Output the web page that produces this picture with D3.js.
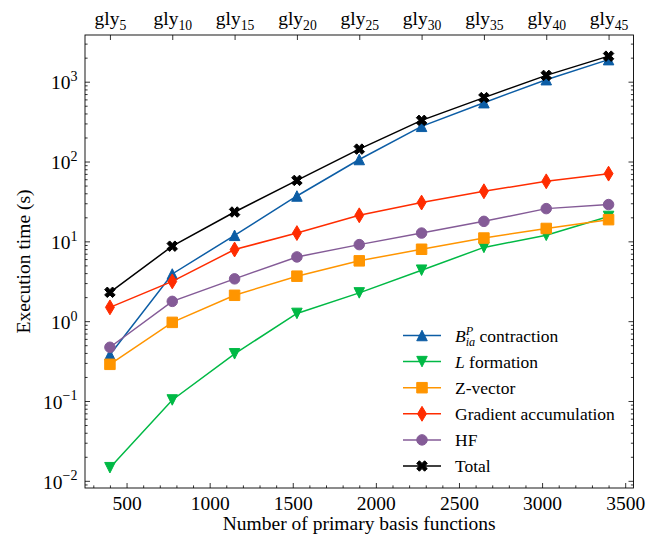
<!DOCTYPE html>
<html>
<head>
<meta charset="utf-8">
<script src="https://cdn.jsdelivr.net/npm/d3@7"></script>
<style>
  body { margin: 0; background: #fff; }
  svg { display: block; font-family: 'Liberation Serif', 'Times New Roman', serif; }
  svg text { font-family: 'Liberation Serif', 'Times New Roman', serif; }
</style>
</head>
<body>
<script>
// number of primary basis functions for each glycine chain
const basisFunctions = [400, 775, 1150, 1525, 1900, 2275, 2650, 3025, 3400]
const glycineSizes = [5, 10, 15, 20, 25, 30, 35, 40, 45]

// execution times in seconds
const bContraction = [0.38, 3.9, 11.9, 37, 106, 276, 546, 1060, 1890]
const lFormation = [0.0146, 0.103, 0.39, 1.25, 2.26, 4.35, 8.4, 11.9, 20.5]
const zVector = [0.288, 0.966, 2.11, 3.66, 5.7, 7.96, 11.0, 14.5, 18.7]
const gradientAccumulation = [1.49, 3.15, 7.9, 12.7, 21.2, 30.6, 42.4, 56.5, 70.5]
const hf = [0.471, 1.77, 3.39, 6.38, 9.1, 12.7, 17.8, 25.7, 28.9]
const total = [2.3, 8.7, 23.3, 58, 143, 328, 632, 1200, 2090]

const seriesNames = ['B_ia^P contraction', 'L formation', 'Z-vector', 'Gradient accumulation', 'HF', 'Total']
const xTicks = [500, 1000, 1500, 2000, 2500, 3000, 3500]
const yTickExponents = [-2, -1, 0, 1, 2, 3]

const width = 647
const height = 538
const margin = { top: 35, right: 13.5, bottom: 50, left: 85 }
const fontSize = 19.5
const legendFont = 17.5
const ms = 10.5

// marker shapes, size is the marker size in px
const triangleUp = { draw (c, s) { const r = s / 2; c.moveTo(0, -r); c.lineTo(r, r); c.lineTo(-r, r); c.closePath() } }
const triangleDown = { draw (c, s) { const r = s / 2; c.moveTo(0, r); c.lineTo(r, -r); c.lineTo(-r, -r); c.closePath() } }
const square = { draw (c, s) { const r = s / 2; c.rect(-r, -r, s, s) } }
const thinDiamond = {
  draw (c, s) {
    const h = s * Math.SQRT1_2
    const w = h * 0.6
    c.moveTo(0, -h); c.lineTo(w, 0); c.lineTo(0, h); c.lineTo(-w, 0); c.closePath()
  }
}
const circle = { draw (c, s) { const r = s / 2; c.moveTo(r, 0); c.arc(0, 0, r, 0, 2 * Math.PI) } }
const filledX = {
  draw (c, s) {
    const pts = [[-1, -3], [1, -3], [1, -1], [3, -1], [3, 1], [1, 1], [1, 3], [-1, 3], [-1, 1], [-3, 1], [-3, -1], [-1, -1]]
    const k = s / 6 / 0.943
    pts.forEach(([px, py], i) => {
      const rx = (px - py) * Math.SQRT1_2 * k
      const ry = (px + py) * Math.SQRT1_2 * k
      if (i === 0) c.moveTo(rx, ry)
      else c.lineTo(rx, ry)
    })
    c.closePath()
  }
}

const series = [
  { name: seriesNames[0], values: bContraction, color: '#0C5DA5', symbol: triangleUp },
  { name: seriesNames[1], values: lFormation, color: '#00B945', symbol: triangleDown },
  { name: seriesNames[2], values: zVector, color: '#FF9500', symbol: square },
  { name: seriesNames[3], values: gradientAccumulation, color: '#FF2C00', symbol: thinDiamond },
  { name: seriesNames[4], values: hf, color: '#845B97', symbol: circle },
  { name: seriesNames[5], values: total, color: '#000000', symbol: filledX }
]

const svg = d3.select('body').append('svg')
  .attr('width', width)
  .attr('height', height)

const x = d3.scaleLinear()
  .domain([250, 3550])
  .range([margin.left, width - margin.right])
const y = d3.scaleLog()
  .domain([10 ** -2.09, 10 ** 3.585])
  .range([height - margin.bottom, margin.top])

const yMajor = yTickExponents.map(e => 10 ** e)
const yMinor = []
for (let e = -3; e <= 3; e++) {
  for (let k = 2; k <= 9; k++) {
    const v = k * 10 ** e
    if (v >= y.domain()[0] && v <= y.domain()[1]) yMinor.push(v)
  }
}
const xMinor = d3.range(300, 3600, 100).filter(v => v % 500 !== 0)

function addAxis (axis, tx, ty) {
  const g = svg.append('g')
    .attr('transform', `translate(${tx},${ty})`)
    .call(axis)
    .attr('font-family', null)
    .attr('font-size', null)
  g.select('.domain').remove()
  g.selectAll('line').attr('stroke', '#000').attr('stroke-width', 0.8)
  g.selectAll('text').attr('fill', '#000').style('font-size', fontSize + 'px')
  return g
}

const bottom = height - margin.bottom
const right = width - margin.right

// bottom axis
addAxis(d3.axisBottom(x).tickValues(xTicks).tickSize(-5).tickPadding(8).tickFormat(d => String(d)), 0, bottom)
  .selectAll('text').attr('dy', '0.71em')
addAxis(d3.axisBottom(x).tickValues(xMinor).tickSize(-2.6).tickFormat(''), 0, bottom)

// top axis with glycine chain labels
const topAxis = addAxis(d3.axisTop(x).tickValues(basisFunctions).tickSize(-5).tickPadding(10).tickFormat(''), 0, margin.top)
topAxis.selectAll('text').each(function (d, i) {
  const t = d3.select(this)
  t.append('tspan').text('gly')
  t.append('tspan').attr('dy', 4.5).style('font-size', (fontSize * 0.7) + 'px').text(glycineSizes[i])
})

// left axis with powers of ten
const leftAxis = addAxis(d3.axisLeft(y).tickValues(yMajor).tickSize(-5).tickPadding(7.5).tickFormat(''), margin.left, 0)
leftAxis.selectAll('text').attr('dy', '0.37em').each(function (d, i) {
  const e = yTickExponents[i]
  const t = d3.select(this)
  t.append('tspan').text('10')
  t.append('tspan').attr('dy', -8.3).style('font-size', (fontSize * 0.72) + 'px')
    .text(e < 0 ? '\u2212' + Math.abs(e) : String(e))
})
addAxis(d3.axisLeft(y).tickValues(yMinor).tickSize(-2.6).tickFormat(''), margin.left, 0)

// right axis ticks only
addAxis(d3.axisRight(y).tickValues(yMajor).tickSize(-5).tickFormat(''), right, 0)
addAxis(d3.axisRight(y).tickValues(yMinor).tickSize(-2.6).tickFormat(''), right, 0)

// series
const line = d3.line()
  .x((d, i) => x(basisFunctions[i]))
  .y(d => y(d))

series.forEach(s => {
  const g = svg.append('g')
  g.append('path')
    .attr('d', line(s.values))
    .attr('fill', 'none')
    .attr('stroke', s.color)
    .attr('stroke-width', 1.5)
  g.selectAll('path.marker')
    .data(s.values)
    .enter()
    .append('path')
    .attr('class', 'marker')
    .attr('transform', (d, i) => `translate(${x(basisFunctions[i])},${y(d)})`)
    .attr('d', d3.symbol().type(s.symbol).size(ms))
    .attr('fill', s.color)
    .attr('stroke', s.color)
    .attr('stroke-width', 1)
})

// frame
svg.append('rect')
  .attr('x', margin.left)
  .attr('y', margin.top)
  .attr('width', right - margin.left)
  .attr('height', bottom - margin.top)
  .attr('fill', 'none')
  .attr('stroke', '#000')
  .attr('stroke-width', 0.9)

// axis titles
svg.append('text')
  .attr('x', (margin.left + right) / 2)
  .attr('y', 530)
  .attr('text-anchor', 'middle')
  .style('font-size', fontSize + 'px')
  .text('Number of primary basis functions')
svg.append('text')
  .attr('transform', `translate(30,${(margin.top + bottom) / 2}) rotate(-90)`)
  .attr('text-anchor', 'middle')
  .style('font-size', fontSize + 'px')
  .text('Execution time (s)')

// legend
const legend = svg.append('g').attr('transform', 'translate(403,335.5)')
const rows = legend.selectAll('g')
  .data(series)
  .enter()
  .append('g')
  .attr('transform', (d, i) => `translate(0,${i * 26.1})`)
rows.append('line')
  .attr('x1', 0).attr('x2', 38)
  .attr('stroke', d => d.color)
  .attr('stroke-width', 1.5)
rows.append('path')
  .attr('transform', 'translate(19,0)')
  .attr('d', d => d3.symbol().type(d.symbol).size(ms)())
  .attr('fill', d => d.color)
  .attr('stroke', d => d.color)
  .attr('stroke-width', 1)
rows.append('text')
  .attr('x', 52)
  .attr('y', 6)
  .style('font-size', legendFont + 'px')
  .each(function (d) {
    const t = d3.select(this)
    const small = (legendFont * 0.7) + 'px'
    if (d.name.startsWith('B_')) {
      t.append('tspan').style('font-style', 'italic').text('B')
      t.append('tspan').style('font-style', 'italic').style('font-size', small).attr('dy', -7).text('P')
      t.append('tspan').style('font-style', 'italic').style('font-size', small).attr('dx', -7.5).attr('dy', 11).text('ia')
      t.append('tspan').attr('dy', -4).text(' contraction')
    } else if (d.name.startsWith('L ')) {
      t.append('tspan').style('font-style', 'italic').text('L')
      t.append('tspan').text(d.name.slice(1))
    } else {
      t.text(d.name)
    }
  })
</script>
</body>
</html>
